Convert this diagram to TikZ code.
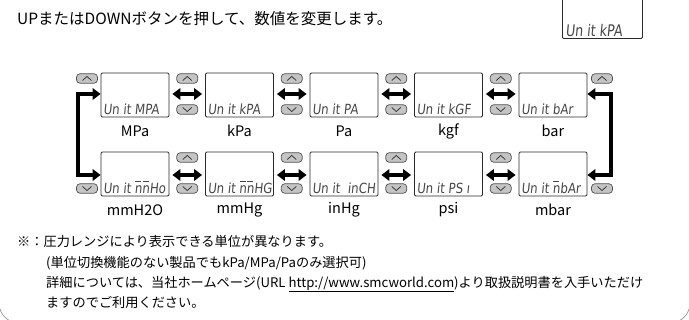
\documentclass[tikz,border=0pt]{standalone}
\usepackage{fontspec}
\setmainfont{Noto Sans CJK JP}
\newfontfamily\segfont{DejaVu Sans}[FakeSlant=0.12]
\usetikzlibrary{arrows.meta,calc}
\definecolor{btnfill}{HTML}{C4C4C4}
\definecolor{btnline}{HTML}{505050}
\definecolor{lcdline}{HTML}{2A2A2A}
\newcommand\ovn{\leavevmode\hbox{\rlap{\kern0.05em\rule[0.8em]{0.5em}{0.07em}}n}}
\tikzset{
  lcd/.style={draw=lcdline, line width=0.8pt, rounded corners=1.2pt, minimum width=68pt, minimum height=44pt, inner sep=0pt},
  btn/.style={draw=btnline, fill=btnfill, line width=0.7pt, rounded corners=3.5pt, minimum width=21pt, minimum height=9.5pt, inner sep=0pt},
  chev/.style={draw=black!80, line width=0.75pt},
  bigarrow/.style={line width=3.4pt, {Triangle[length=8pt,width=11.5pt]}-{Triangle[length=8pt,width=11.5pt]}},
  lbl/.style={font=\fontsize{14.5}{14.5}\selectfont, anchor=center, inner sep=0pt},
  segtxt/.style={font=\segfont\fontsize{14}{14}\selectfont, text=black!72, anchor=south west, inner sep=0pt, xscale=0.84},
  note/.style={font=\fontsize{13.2}{13.2}\selectfont, anchor=west, inner sep=0pt},
}
\newcommand\UpB[2]{\node[btn] (#1) at (#2) {};
  \draw[chev] ([shift={(-4.5,2)}]#1.center) -- ++(4.5,-4) -- ++(4.5,4);}
\newcommand\DnB[2]{\node[btn] (#1) at (#2) {};
  \draw[chev] ([shift={(-4.5,-2)}]#1.center) -- ++(4.5,4) -- ++(4.5,-4);}
\begin{document}
\begin{tikzpicture}[x=1pt,y=-1pt]
\useasboundingbox (0,0) rectangle (689,320);
% frame corner
\draw[black!45, line width=0.6pt, rounded corners=20pt] (-1,-40) rectangle (690,323);
% title
\node[anchor=west, inner sep=0pt, font=\fontsize{15.5}{15.5}\selectfont] (title) at (17,19) {UPまたはDOWNボタンを押して、数値を変更します。};
% top right display
\node[lcd, minimum width=80pt, minimum height=50pt, anchor=south west] (tr) at (562,39) {};
\node[segtxt, font=\segfont\fontsize{16}{16}\selectfont, xscale=0.94] (trt) at ([shift={(3.5,-2.5)}]tr.south west) {Un it kPA};
% row 1 boxes
\foreach \k/\x/\t/\l in {1/135/MPA/MPa, 2/239.5/kPA/kPa, 3/344/PA/Pa, 4/448.5/kGF/kgf, 5/553/bAr/bar}{
  \node[lcd] (a\k) at (\x,95) {};
  \node[segtxt] (at\k) at ([shift={(2.5,-2.5)}]a\k.south west) {Un it \t};
  \node[lbl] (al\k) at (\x,131) {\l};
}
% row 2 boxes
\foreach \k/\x/\t/\l in {1/135/{\ovn\ovn Ho}/mmH2O, 2/239.5/{\ovn\ovn HG}/mmHg, 3/344/{\,\,inCH}/inHg, 4/448.5/{PS ı}/psi, 5/553/{\ovn bAr}/mbar}{
  \node[lcd] (b\k) at (\x,174) {};
  \node[segtxt] (bt\k) at ([shift={(2.5,-2.5)}]b\k.south west) {Un it \t};
  \node[lbl] (bl\k) at (\x,210) {\l};
}
% buttons row 1
\UpB{u10}{87,78.5}
\foreach \k/\x in {1/187.25,2/291.75,3/396.25,4/500.75}{
  \UpB{u1\k x}{\x,78.5}
  \DnB{d1\k x}{\x,109.5}
}
\UpB{u16}{602,78.5}
% buttons row 2
\DnB{d20}{87,188.5}
\foreach \k/\x in {1/187.25,2/291.75,3/396.25,4/500.75}{
  \UpB{u2\k x}{\x,157.5}
  \DnB{d2\k x}{\x,188.5}
}
\DnB{d26}{602,188.5}
% double arrows
\foreach \k/\j in {1/2,2/3,3/4,4/5}{
  \draw[bigarrow, shorten <=3pt, shorten >=3pt] ([yshift=1]a\k.east) -- ([yshift=1]a\j.west);
  \draw[bigarrow, shorten <=3pt, shorten >=3pt] ([yshift=-1]b\k.east) -- ([yshift=-1]b\j.west);
}
% side connectors
\coordinate (lx) at (78,0);
\coordinate (rx) at (611,0);
\draw[bigarrow, line join=miter] ([yshift=-1]b1.west) -- ([yshift=-1]lx |- b1.west) -- ([yshift=1]lx |- a1.west) -- ([yshift=1]a1.west);
\draw[bigarrow, line join=miter] ([yshift=1]a5.east) -- ([yshift=1]rx |- a5.east) -- ([yshift=-1]rx |- b5.east) -- ([yshift=-1]b5.east);
% notes
\node[note] (n1) at (17,241) {※：圧力レンジにより表示できる単位が異なります。};
\node[note] (n2) at (46,263) {(単位切換機能のない製品でもkPa/MPa/Paのみ選択可)};
\node[note] (n3) at (46,284) {詳細については、当社ホームページ(URL \underline{http://www.smcworld.com})より取扱説明書を入手いただけ};
\node[note] (n4) at (46,302) {ますのでご利用ください。};
\end{tikzpicture}
\end{document}
